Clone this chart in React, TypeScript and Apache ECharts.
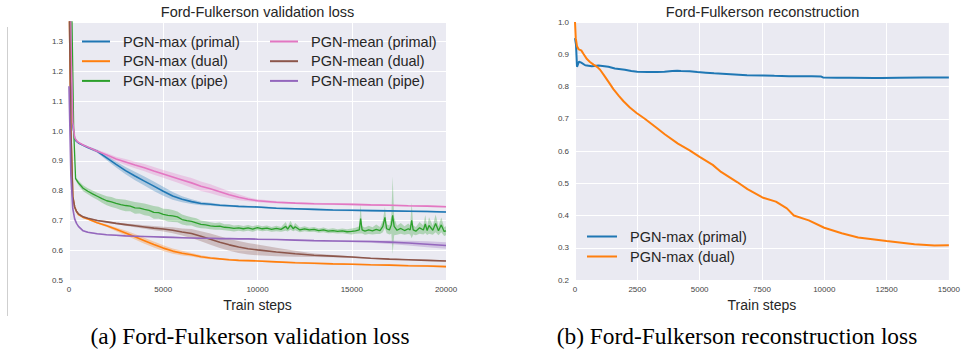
import React, { useEffect, useRef } from "react";
import * as echarts from "echarts";

// ---------- Left chart: Ford-Fulkerson validation loss ----------
const LEFT_STEPS = [0, 100, 200, 300, 400, 500, 750, 1000, 1500, 2000, 2500, 3000, 3500, 4000, 4500, 5000, 5500, 6000, 6500, 7000, 7500, 8000, 8500, 9000, 9500, 10000, 11000, 12000, 13000, 14000, 15000, 16000, 17000, 18000, 19000, 20000];

const MAX_PRIMAL = [1.8, 1.25, 1.02, 0.975, 0.965, 0.96, 0.952, 0.945, 0.932, 0.91, 0.888, 0.867, 0.849, 0.832, 0.815, 0.798, 0.782, 0.771, 0.763, 0.757, 0.754, 0.751, 0.749, 0.747, 0.746, 0.745, 0.741, 0.739, 0.737, 0.735, 0.734, 0.733, 0.732, 0.731, 0.73, 0.728];
const MAX_PRIMAL_SPREAD = [0, 0, 0, 0, 0, 0.002, 0.003, 0.004, 0.005, 0.008, 0.01, 0.012, 0.014, 0.015, 0.016, 0.015, 0.013, 0.01, 0.008, 0.006, 0.005, 0.004, 0.004, 0.003, 0.003, 0.003, 0.003, 0.003, 0.003, 0.003, 0.003, 0.003, 0.003, 0.003, 0.003, 0.003];

const MEAN_PRIMAL = [1.7, 1.3, 1.03, 0.978, 0.968, 0.962, 0.953, 0.946, 0.932, 0.92, 0.906, 0.896, 0.886, 0.877, 0.866, 0.856, 0.846, 0.836, 0.826, 0.815, 0.806, 0.796, 0.786, 0.778, 0.771, 0.766, 0.761, 0.758, 0.756, 0.755, 0.754, 0.752, 0.751, 0.749, 0.748, 0.746];
const MEAN_PRIMAL_SPREAD = [0, 0, 0, 0, 0, 0.002, 0.003, 0.004, 0.005, 0.006, 0.008, 0.01, 0.011, 0.012, 0.013, 0.013, 0.014, 0.015, 0.016, 0.016, 0.015, 0.014, 0.012, 0.01, 0.007, 0.005, 0.004, 0.003, 0.003, 0.003, 0.003, 0.003, 0.003, 0.003, 0.003, 0.003];

const MAX_DUAL = [1.5, 1.0, 0.78, 0.745, 0.73, 0.72, 0.71, 0.705, 0.692, 0.682, 0.67, 0.658, 0.645, 0.632, 0.619, 0.607, 0.597, 0.59, 0.585, 0.578, 0.574, 0.571, 0.568, 0.566, 0.565, 0.564, 0.561, 0.558, 0.556, 0.554, 0.553, 0.551, 0.55, 0.548, 0.547, 0.545];
const MAX_DUAL_SPREAD = [0, 0, 0, 0, 0, 0.002, 0.002, 0.003, 0.003, 0.004, 0.006, 0.008, 0.009, 0.01, 0.01, 0.01, 0.009, 0.008, 0.006, 0.005, 0.004, 0.003, 0.003, 0.003, 0.003, 0.003, 0.003, 0.003, 0.003, 0.003, 0.003, 0.003, 0.003, 0.003, 0.003, 0.003];

const MEAN_DUAL = [1.5, 1.0, 0.78, 0.745, 0.73, 0.722, 0.712, 0.707, 0.7, 0.695, 0.69, 0.686, 0.682, 0.678, 0.674, 0.671, 0.667, 0.661, 0.656, 0.647, 0.637, 0.627, 0.618, 0.611, 0.605, 0.601, 0.594, 0.588, 0.583, 0.58, 0.577, 0.573, 0.57, 0.568, 0.566, 0.564];
const MEAN_DUAL_SPREAD = [0, 0, 0, 0, 0, 0.002, 0.002, 0.002, 0.002, 0.003, 0.003, 0.004, 0.005, 0.006, 0.007, 0.008, 0.01, 0.012, 0.015, 0.017, 0.019, 0.02, 0.02, 0.02, 0.019, 0.018, 0.014, 0.01, 0.006, 0.004, 0.003, 0.002, 0.002, 0.002, 0.002, 0.002];

const MEAN_PIPE = [1.15, 0.85, 0.74, 0.705, 0.69, 0.68, 0.665, 0.66, 0.655, 0.652, 0.65, 0.648, 0.647, 0.646, 0.645, 0.644, 0.643, 0.642, 0.641, 0.64, 0.64, 0.639, 0.639, 0.638, 0.638, 0.637, 0.636, 0.634, 0.632, 0.631, 0.63, 0.629, 0.627, 0.624, 0.62, 0.616];
const MEAN_PIPE_SPREAD = [0, 0, 0, 0, 0, 0.002, 0.002, 0.002, 0.002, 0.002, 0.002, 0.002, 0.002, 0.002, 0.002, 0.002, 0.002, 0.002, 0.002, 0.002, 0.002, 0.002, 0.002, 0.002, 0.002, 0.002, 0.002, 0.002, 0.002, 0.003, 0.003, 0.004, 0.006, 0.008, 0.01, 0.011];

const PIPE_STEPS = [0, 100, 150, 250, 350, 500, 750, 1000, 1250, 1500, 1750, 2000, 2250, 2500, 2750, 3000, 3250, 3500, 3750, 4000, 4250, 4500, 4750, 5000, 5250, 5500, 5750, 6000, 6250, 6500, 6750, 7000, 7250, 7500, 7750, 8000, 8250, 8500, 8750, 9000, 9250, 9500, 9750, 10000, 10250, 10500, 10750, 11000, 11250, 11500, 11600, 11750, 11900, 12000, 12250, 12500, 12750, 13000, 13250, 13500, 13750, 14000, 14250, 14500, 14750, 15000, 15200, 15400, 15470, 15550, 15700, 15900, 16100, 16300, 16500, 16650, 16760, 16850, 17000, 17100, 17170, 17250, 17400, 17600, 17800, 18000, 18100, 18180, 18260, 18400, 18600, 18800, 18900, 19000, 19100, 19300, 19450, 19600, 19750, 19900, 20000];
const MAX_PIPE = [1.9, 1.6, 1.4, 1.0, 0.84, 0.826, 0.808, 0.798, 0.789, 0.781, 0.773, 0.766, 0.762, 0.757, 0.753, 0.75, 0.748, 0.742, 0.741, 0.737, 0.734, 0.727, 0.726, 0.72, 0.717, 0.715, 0.712, 0.703, 0.699, 0.697, 0.692, 0.687, 0.685, 0.682, 0.68, 0.681, 0.677, 0.676, 0.673, 0.675, 0.672, 0.675, 0.671, 0.676, 0.672, 0.674, 0.67, 0.673, 0.67, 0.68, 0.671, 0.684, 0.672, 0.679, 0.668, 0.672, 0.668, 0.67, 0.666, 0.668, 0.664, 0.666, 0.663, 0.665, 0.662, 0.663, 0.665, 0.668, 0.706, 0.668, 0.664, 0.668, 0.665, 0.67, 0.666, 0.68, 0.71, 0.672, 0.668, 0.685, 0.717, 0.68, 0.667, 0.673, 0.666, 0.672, 0.668, 0.7, 0.668, 0.664, 0.675, 0.668, 0.688, 0.666, 0.683, 0.667, 0.69, 0.665, 0.685, 0.663, 0.665];
const MAX_PIPE_SPREAD = [0, 0, 0, 0, 0.005, 0.008, 0.01, 0.01, 0.011, 0.012, 0.014, 0.015, 0.017, 0.016, 0.018, 0.019, 0.017, 0.02, 0.018, 0.02, 0.019, 0.021, 0.02, 0.019, 0.021, 0.02, 0.018, 0.017, 0.016, 0.014, 0.015, 0.013, 0.012, 0.012, 0.011, 0.012, 0.01, 0.011, 0.01, 0.01, 0.009, 0.01, 0.009, 0.009, 0.008, 0.009, 0.008, 0.009, 0.008, 0.015, 0.008, 0.015, 0.008, 0.012, 0.008, 0.008, 0.007, 0.008, 0.007, 0.008, 0.007, 0.008, 0.007, 0.008, 0.008, 0.01, 0.01, 0.012, 0.05, 0.012, 0.012, 0.014, 0.012, 0.016, 0.012, 0.02, 0.035, 0.015, 0.015, 0.03, 0.13, 0.03, 0.015, 0.018, 0.014, 0.018, 0.015, 0.06, 0.015, 0.014, 0.02, 0.015, 0.03, 0.015, 0.028, 0.015, 0.03, 0.015, 0.025, 0.015, 0.015];

// ---------- Right chart: Ford-Fulkerson reconstruction ----------
const RIGHT_PRIMAL_STEPS = [0, 40, 80, 160, 250, 410, 675, 940, 1340, 1600, 2000, 2260, 2500, 2930, 3300, 3590, 3900, 4100, 4250, 4600, 4910, 5250, 5580, 6240, 6900, 7570, 8000, 8580, 9000, 9500, 9880, 9950, 10500, 11000, 12000, 12300, 13000, 14000, 15000];
const RIGHT_PRIMAL = [0.95, 0.93, 0.861, 0.877, 0.874, 0.866, 0.863, 0.865, 0.861, 0.856, 0.852, 0.848, 0.846, 0.845, 0.845, 0.846, 0.848, 0.849, 0.848, 0.847, 0.845, 0.843, 0.841, 0.838, 0.835, 0.834, 0.833, 0.832, 0.832, 0.832, 0.831, 0.828, 0.827, 0.827, 0.826, 0.826, 0.827, 0.828, 0.828];

const RIGHT_DUAL_STEPS = [0, 30, 80, 150, 250, 350, 478, 600, 743, 900, 1008, 1208, 1400, 1540, 1750, 1937, 2200, 2470, 2800, 3270, 3600, 4130, 4600, 5000, 5525, 5860, 6520, 6920, 7518, 8060, 8500, 8780, 9380, 10000, 10700, 11360, 12500, 13620, 14420, 15000];
const RIGHT_DUAL = [1.0, 0.95, 0.925, 0.915, 0.912, 0.9, 0.885, 0.876, 0.868, 0.86, 0.852, 0.83, 0.808, 0.792, 0.772, 0.755, 0.735, 0.718, 0.7, 0.672, 0.652, 0.623, 0.602, 0.582, 0.557, 0.535, 0.503, 0.482, 0.456, 0.443, 0.422, 0.4, 0.385, 0.362, 0.345, 0.332, 0.321, 0.311, 0.307, 0.308];

const LEFT_X_TICK = 5000;
const RIGHT_X_TICK = 2500;

const BLUE = "#1f77b4";
const ORANGE = "#ff7f0e";
const GREEN = "#2ca02c";
const PINK = "#e377c2";
const BROWN = "#8c564b";
const PURPLE = "#9467bd";

const SANS = '"Liberation Sans", Arial, Helvetica, sans-serif';
const SERIF = '"Liberation Serif", "Times New Roman", serif';
const TEXT = "#262626";

function pairs(steps: number[], vals: number[]) {
  return steps.map((s, i) => [s, vals[i]]);
}

// Confidence band drawn as one polygon through the axis scales (api.coord)
function band(steps: number[], mean: number[], spread: number[], color: string) {
  const lo = steps.map((_, i) => mean[i] - spread[i]);
  const hi = steps.map((_, i) => mean[i] + spread[i]);
  return {
    type: "custom",
    xAxisIndex: 0,
    yAxisIndex: 0,
    silent: true,
    clip: true,
    z: 1,
    data: steps.map((s, i) => [s, lo[i], hi[i]]),
    encode: { x: 0, y: [1, 2] },
    renderItem: (params: any, api: any) => {
      if (params.dataIndex !== 0) return null;
      const top = steps.map((s, i) => api.coord([s, hi[i]]));
      const bot = steps.map((s, i) => api.coord([s, lo[i]])).reverse();
      return {
        type: "polygon",
        shape: { points: top.concat(bot) },
        style: { fill: color, opacity: 0.3, stroke: "none" },
      };
    },
  };
}

function mainLine(name: string, steps: number[], vals: number[], color: string, idx: number, width = 1.6) {
  return {
    type: "line",
    name,
    xAxisIndex: idx,
    yAxisIndex: idx,
    symbol: "none",
    color,
    lineStyle: { color, width },
    data: pairs(steps, vals),
    z: 3,
  };
}

const axisCommon = {
  axisLine: { show: false },
  axisTick: { show: false },
  splitLine: { show: true, lineStyle: { color: "#ffffff", width: 1 } },
};

export default function App() {
  const ref = useRef<HTMLDivElement>(null);
  useEffect(() => {
    if (!ref.current) return;
    const chart = echarts.init(ref.current, null, { renderer: "svg" });
    const legendText = { fontSize: 14.5, color: TEXT, fontFamily: SANS, padding: [0, 0, 0, 8] };
    const legendBase = {
      orient: "vertical",
      icon: "rect",
      itemHeight: 2,
      itemGap: 4.7,
      padding: 0,
      textStyle: legendText,
      selectedMode: false,
    };
    const option: any = {
      animation: false,
      backgroundColor: "#ffffff",
      grid: [
        { left: 69, top: 22, width: 377, height: 258, show: true, backgroundColor: "#eaeaf2", borderWidth: 0 },
        { left: 575, top: 22, width: 376, height: 258, show: true, backgroundColor: "#eaeaf2", borderWidth: 0 },
      ],
      xAxis: [
        {
          type: "value", gridIndex: 0, min: 0, max: 20000, interval: LEFT_X_TICK,
          ...axisCommon,
          axisLabel: { fontSize: 8, color: "#444", fontFamily: SANS, margin: 5, formatter: (v: number) => String(v) },
          name: "Train steps", nameLocation: "middle", nameGap: 16,
          nameTextStyle: { fontSize: 14, color: TEXT, fontFamily: SANS },
        },
        {
          type: "value", gridIndex: 1, min: 0, max: 15000, interval: RIGHT_X_TICK,
          ...axisCommon,
          axisLabel: { fontSize: 8, color: "#444", fontFamily: SANS, margin: 5, formatter: (v: number) => String(v) },
          name: "Train steps", nameLocation: "middle", nameGap: 16,
          nameTextStyle: { fontSize: 14, color: TEXT, fontFamily: SANS },
        },
      ],
      yAxis: [
        {
          type: "value", gridIndex: 0, min: 0.5, max: 1.366, interval: 0.1,
          ...axisCommon,
          axisLabel: { fontSize: 8, color: "#444", fontFamily: SANS, margin: 6, showMaxLabel: false, formatter: (v: number) => v.toFixed(1) },
        },
        {
          type: "value", gridIndex: 1, min: 0.2, max: 1.0, interval: 0.1,
          ...axisCommon,
          axisLabel: { fontSize: 8, color: "#444", fontFamily: SANS, margin: 6, formatter: (v: number) => v.toFixed(1) },
        },
      ],
      legend: [
        { ...legendBase, data: ["PGN-max (primal)", "PGN-max (dual)", "PGN-max (pipe)"], left: 82, top: 34, itemWidth: 28 },
        { ...legendBase, data: ["PGN-mean (primal)", "PGN-mean (dual)", "PGN-mean (pipe)"], left: 270, top: 34, itemWidth: 28 },
        { ...legendBase, data: ["PGN-max (primal)", "PGN-max (dual)"], left: 587, top: 229, itemWidth: 30, itemGap: 5 },
      ],
      graphic: [
        { type: "line", shape: { x1: 7.5, y1: 27, x2: 7.5, y2: 316 }, style: { stroke: "#cfcfcf", lineWidth: 1 } },
        { type: "text", x: 257.5, y: 12, style: { text: "Ford-Fulkerson validation loss", font: `14.5px ${SANS}`, fill: TEXT, textAlign: "center", textVerticalAlign: "middle" } },
        { type: "text", x: 762.5, y: 12, style: { text: "Ford-Fulkerson reconstruction", font: `14.5px ${SANS}`, fill: TEXT, textAlign: "center", textVerticalAlign: "middle" } },
        { type: "text", x: 250, y: 336, style: { text: "(a) Ford-Fulkerson validation loss", font: `23.4px ${SERIF}`, fill: "#000", textAlign: "center", textVerticalAlign: "middle" } },
        { type: "text", x: 737, y: 336, style: { text: "(b) Ford-Fulkerson reconstruction loss", font: `23.4px ${SERIF}`, fill: "#000", textAlign: "center", textVerticalAlign: "middle" } },
      ],
      series: [
        band(LEFT_STEPS, MAX_PRIMAL, MAX_PRIMAL_SPREAD, BLUE),
        band(LEFT_STEPS, MAX_DUAL, MAX_DUAL_SPREAD, ORANGE),
        band(PIPE_STEPS, MAX_PIPE, MAX_PIPE_SPREAD, GREEN),
        band(LEFT_STEPS, MEAN_PRIMAL, MEAN_PRIMAL_SPREAD, PINK),
        band(LEFT_STEPS, MEAN_DUAL, MEAN_DUAL_SPREAD, BROWN),
        band(LEFT_STEPS, MEAN_PIPE, MEAN_PIPE_SPREAD, PURPLE),
        mainLine("PGN-max (primal)", LEFT_STEPS, MAX_PRIMAL, BLUE, 0),
        mainLine("PGN-max (dual)", LEFT_STEPS, MAX_DUAL, ORANGE, 0),
        mainLine("PGN-max (pipe)", PIPE_STEPS, MAX_PIPE, GREEN, 0, 1.3),
        mainLine("PGN-mean (primal)", LEFT_STEPS, MEAN_PRIMAL, PINK, 0),
        mainLine("PGN-mean (dual)", LEFT_STEPS, MEAN_DUAL, BROWN, 0),
        mainLine("PGN-mean (pipe)", LEFT_STEPS, MEAN_PIPE, PURPLE, 0),
        mainLine("PGN-max (primal)", RIGHT_PRIMAL_STEPS, RIGHT_PRIMAL, BLUE, 1, 2),
        mainLine("PGN-max (dual)", RIGHT_DUAL_STEPS, RIGHT_DUAL, ORANGE, 1, 2),
      ],
    };
    chart.setOption(option);
    return () => chart.dispose();
  }, []);
  return <div ref={ref} style={{ position: "fixed", left: 0, top: 0, width: 963, height: 350 }} />;
}
